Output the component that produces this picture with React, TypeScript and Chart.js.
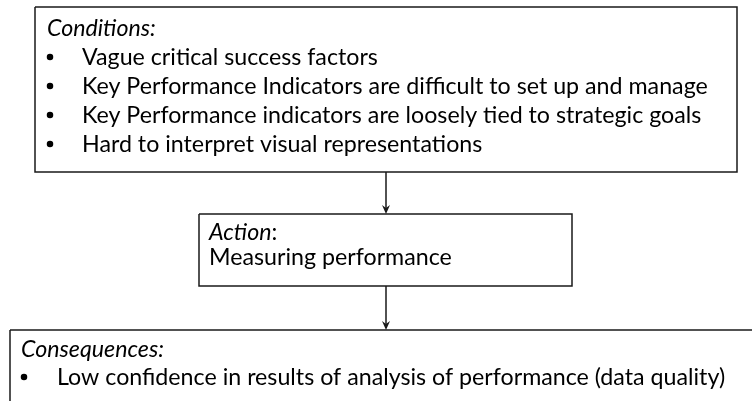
import React, { useEffect, useRef } from "react";
import { Chart, registerables } from "chart.js";

Chart.register(...registerables);

// ---- content ----
const conditionsTitle = "Conditions:";
const conditionItems = [
  "Vague critical success factors",
  "Key Performance Indicators are difficult to set up and manage",
  "Key Performance indicators are loosely tied to strategic goals",
  "Hard to interpret visual representations",
];
const actionTitle = "Action";
const actionText = "Measuring performance";
const consequencesTitle = "Consequences:";
const consequenceItems = [
  "Low confidence in results of analysis of performance (data quality)",
];

// ---- layout (diagram units = page pixels) ----
const W = 752;
const H = 401;
const box1 = { x0: 35, y0: 7, x1: 737, y1: 172 };
const box2 = { x0: 199, y0: 214, x1: 572, y1: 286 };
const box3 = { x0: 10, y0: 330, x1: 780, y1: 430 };
const arrowX = 386;
const FONT = 'Lato, "Noto Sans", sans-serif';
const LINE_COLOR = "#1a1a1a";

function rectPts(b: { x0: number; y0: number; x1: number; y1: number }) {
  return [
    { x: b.x0, y: b.y0 },
    { x: b.x1, y: b.y0 },
    { x: b.x1, y: b.y1 },
    { x: b.x0, y: b.y1 },
    { x: b.x0, y: b.y0 },
  ];
}

const textPlugin = {
  id: "diagramText",
  afterDatasetsDraw(chart: any) {
    const ctx = chart.ctx as CanvasRenderingContext2D;
    const xs = chart.scales.x;
    const ys = chart.scales.y;
    const px = (v: number) => xs.getPixelForValue(v);
    const py = (v: number) => ys.getPixelForValue(v);

    // fit font size so the longest condition spans the same width as reference
    ctx.save();
    ctx.font = `18px ${FONT}`;
    const m = ctx.measureText(conditionItems[1]).width;
    const fs = (18 * (708 - 82)) / m;
    const normal = `${fs}px ${FONT}`;
    const italic = `italic ${fs}px ${FONT}`;
    ctx.fillStyle = "#000";
    ctx.textBaseline = "alphabetic";
    ctx.textAlign = "left";

    const bullet = (x: number, base: number) => {
      ctx.beginPath();
      ctx.arc(px(x), py(base - fs * 0.34), fs * 0.14, 0, Math.PI * 2);
      ctx.fill();
    };

    // Box 1
    ctx.font = italic;
    ctx.fillText(conditionsTitle, px(47), py(36));
    const base1 = [65, 94, 123, 152];
    ctx.font = normal;
    conditionItems.forEach((t, i) => {
      bullet(50, base1[i]);
      ctx.fillText(t, px(82), py(base1[i]));
    });

    // Box 2
    ctx.font = italic;
    ctx.fillText(actionTitle, px(209), py(240));
    const aw = ctx.measureText(actionTitle).width;
    ctx.font = normal;
    ctx.fillText(":", px(209) + aw, py(240));
    ctx.fillText(actionText, px(209), py(265));

    // Box 3
    ctx.font = italic;
    ctx.fillText(consequencesTitle, px(21), py(357));
    ctx.font = normal;
    consequenceItems.forEach((t, i) => {
      bullet(24, 385 + i * 29);
      ctx.fillText(t, px(57), py(385 + i * 29));
    });

    // arrowheads
    const head = (x: number, y: number) => {
      ctx.beginPath();
      ctx.moveTo(px(x), py(y));
      ctx.lineTo(px(x) - 4, py(y) - 9);
      ctx.lineTo(px(x), py(y) - 6);
      ctx.lineTo(px(x) + 4, py(y) - 9);
      ctx.closePath();
      ctx.fillStyle = LINE_COLOR;
      ctx.fill();
    };
    head(arrowX, box2.y0);
    head(arrowX, box3.y0);
    ctx.restore();
  },
};

export default function App() {
  const ref = useRef<HTMLCanvasElement | null>(null);
  useEffect(() => {
    document.body.style.margin = "0";
    document.body.style.background = "#fff";
    if (!ref.current) return;
    const lineDs = (data: { x: number; y: number }[]) => ({
      type: "line" as const,
      data,
      showLine: true,
      borderColor: LINE_COLOR,
      borderWidth: 1.5,
      pointRadius: 0,
      fill: false,
      tension: 0,
    });
    const chart = new Chart(ref.current, {
      type: "scatter",
      data: {
        datasets: [
          lineDs(rectPts(box1)),
          lineDs(rectPts(box2)),
          lineDs(rectPts(box3)),
          lineDs([
            { x: arrowX, y: box1.y1 },
            { x: arrowX, y: box2.y0 - 2 },
          ]),
          lineDs([
            { x: arrowX, y: box2.y1 },
            { x: arrowX, y: box3.y0 - 2 },
          ]),
        ] as any,
      },
      options: {
        animation: false,
        responsive: true,
        maintainAspectRatio: false,
        layout: { padding: 0 },
        plugins: { legend: { display: false }, tooltip: { enabled: false } },
        scales: {
          x: { type: "linear", min: 0, max: W, display: false },
          y: { type: "linear", min: 0, max: H, reverse: true, display: false },
        },
      },
      plugins: [textPlugin],
    });
    return () => chart.destroy();
  }, []);
  return (
    <div style={{ width: W, height: H, position: "relative", background: "#fff" }}>
      <canvas ref={ref} />
    </div>
  );
}
